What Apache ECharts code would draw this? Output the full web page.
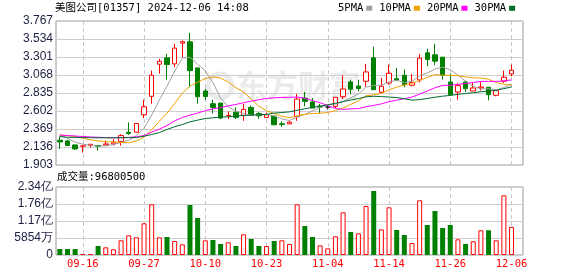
<!DOCTYPE html>
<html><head><meta charset="utf-8">
<script src="https://cdn.jsdelivr.net/npm/echarts@6/dist/echarts.min.js"></script>
<style>html,body{margin:0;padding:0;background:#fff}#c{width:578px;height:276px}</style>
</head><body><div id="c"></div><script>
const dates = ['09-11','09-12','09-13','09-16','09-17','09-19','09-20','09-23','09-24','09-25','09-26','09-27','09-30',
 '10-02','10-03','10-04','10-07','10-08','10-09','10-10','10-14','10-15','10-16','10-17','10-18','10-21','10-22','10-23',
 '10-24','10-25','10-28','10-29','10-30','10-31','11-01','11-04','11-05','11-06','11-07','11-08','11-11','11-12','11-13',
 '11-14','11-15','11-18','11-19','11-20','11-21','11-22','11-25','11-26','11-27','11-28','11-29','12-02','12-03','12-04',
 '12-05','12-06'];
const tickLabels = ['09-16','09-27','10-10','10-23','11-04','11-14','11-26','12-06'];
const opens  = [2.224,2.215,2.163,2.147,2.155,2.155,2.163,2.176,2.206,2.327,2.327,2.553,2.792,3.208,3.290,3.212,3.481,3.498,3.160,2.861,
 2.696,2.705,2.540,2.584,2.545,2.648,2.570,2.519,2.536,2.436,2.436,2.527,2.770,2.718,2.666,2.653,2.662,2.787,2.978,2.926,
 2.987,3.290,2.844,2.965,3.021,3.065,2.935,3.004,3.355,3.329,3.299,2.978,2.848,2.978,2.861,2.900,2.909,2.805,2.987,3.082];
const closes = [2.202,2.155,2.111,2.150,2.171,2.146,2.176,2.198,2.284,2.310,2.440,2.657,3.065,3.246,3.203,3.416,3.498,3.125,2.787,2.790,
 2.648,2.510,2.545,2.519,2.623,2.549,2.540,2.553,2.423,2.428,2.458,2.757,2.727,2.640,2.653,2.653,2.779,2.887,2.885,2.893,
 3.108,2.878,2.922,3.091,3.004,2.943,2.974,3.286,3.268,3.247,3.065,2.813,2.930,2.891,2.900,2.913,2.813,2.865,3.039,3.130];
const lows   = [2.111,2.150,2.098,2.063,2.128,2.089,2.155,2.155,2.155,2.293,2.323,2.510,2.696,3.086,3.008,3.169,3.299,2.909,2.696,2.748,
 2.571,2.501,2.497,2.497,2.475,2.549,2.501,2.519,2.423,2.397,2.432,2.475,2.662,2.640,2.575,2.622,2.640,2.757,2.822,2.857,
 2.917,2.878,2.835,2.943,2.987,2.909,2.922,2.974,3.182,3.195,3.008,2.805,2.748,2.848,2.861,2.865,2.740,2.792,2.965,3.052];
const highs  = [2.271,2.228,2.165,2.150,2.171,2.163,2.219,2.237,2.302,2.453,2.445,2.748,3.125,3.277,3.342,3.472,3.515,3.615,3.160,2.891,
 2.748,2.705,2.596,2.648,2.692,2.674,2.588,2.579,2.536,2.467,2.475,2.822,2.848,2.770,2.692,2.670,2.779,3.065,3.008,3.008,
 3.212,3.433,3.030,3.203,3.160,3.138,3.082,3.342,3.407,3.472,3.299,3.082,2.965,2.995,2.974,2.987,2.909,2.865,3.125,3.203];
const volumes = [20700000,20700000,20700000,3400000,3400000,31000000,26400000,19500000,50500000,67700000,60800000,109100000,
 174500000,60800000,62000000,48200000,36700000,172200000,127400000,50500000,51700000,37900000,43600000,31000000,71200000,
 55100000,31000000,31000000,48200000,50500000,37900000,174500000,99900000,62000000,33300000,23000000,64300000,146900000,
 79200000,74600000,168800000,220400000,88400000,164200000,86100000,68900000,41300000,188300000,103300000,151500000,92900000,
 103300000,54000000,37900000,47100000,85000000,85000000,50500000,205500000,96800500];
const ma5  = [2.284,2.250,2.198,2.172,2.158,2.147,2.151,2.168,2.195,2.223,2.282,2.378,2.551,2.744,2.922,3.117,3.286,3.298,3.206,3.124,
 2.969,2.771,2.655,2.602,2.569,2.549,2.555,2.557,2.538,2.499,2.480,2.524,2.559,2.602,2.647,2.686,2.691,2.723,2.773,2.821,
 2.911,2.931,2.938,2.978,3.001,2.968,2.987,3.060,3.095,3.144,3.168,3.136,3.065,2.989,2.920,2.889,2.889,2.876,2.906,2.952];
const ma10 = [2.293,2.284,2.271,2.250,2.228,2.215,2.206,2.198,2.196,2.190,2.214,2.264,2.360,2.469,2.573,2.700,2.832,2.924,2.975,3.022,
 3.043,3.029,2.977,2.904,2.846,2.759,2.663,2.606,2.570,2.534,2.515,2.540,2.558,2.570,2.573,2.583,2.607,2.641,2.688,2.734,
 2.799,2.811,2.830,2.876,2.911,2.939,2.959,2.999,3.037,3.072,3.068,3.061,3.062,3.042,3.032,3.029,3.013,2.971,2.948,2.936];
const ma20 = [2.290,2.285,2.278,2.272,2.266,2.262,2.258,2.256,2.257,2.260,2.268,2.284,2.328,2.367,2.414,2.475,2.518,2.549,2.575,2.606,
 2.629,2.646,2.668,2.687,2.709,2.729,2.748,2.765,2.772,2.778,2.779,2.784,2.767,2.737,2.709,2.671,2.635,2.623,2.629,2.634,
 2.657,2.675,2.694,2.723,2.742,2.761,2.783,2.820,2.862,2.903,2.933,2.936,2.946,2.959,2.971,2.984,2.986,2.985,2.992,3.004];
const ma30 = [2.271,2.262,2.260,2.258,2.256,2.255,2.255,2.255,2.256,2.257,2.258,2.276,2.297,2.323,2.363,2.398,2.427,2.462,2.484,2.505,
 2.514,2.523,2.527,2.536,2.544,2.549,2.553,2.558,2.575,2.582,2.591,2.611,2.631,2.648,2.664,2.681,2.701,2.724,2.744,2.763,
 2.786,2.793,2.788,2.783,2.776,2.761,2.743,2.749,2.765,2.780,2.794,2.804,2.817,2.829,2.838,2.851,2.860,2.870,2.891,2.914];
const priceMin = 1.903, priceMax = 3.767, priceStep = 0.233;
const volMax = 234160000, volStep = 58540000;
const stockTitle = '美图公司[01357] 2024-12-06 14:08';

const MONO = '"DejaVu Sans Mono","Noto Sans CJK SC",monospace';
const SANS = '"Liberation Sans",Arial,sans-serif';
const RED = '#ff0000', GREEN = '#008000';
const labelColor = '#1c2040';
const showTick = (i, v) => tickLabels.indexOf(v) >= 0 || tickLabels.indexOf(dates[i]) >= 0;

const chart = echarts.init(document.getElementById('c'), null, {renderer:'canvas'});
const candle = dates.map((d, i) => [opens[i], closes[i], lows[i], highs[i]]);
const volData = volumes.map((v, i) => {
  const up = i === 0 ? closes[i] >= opens[i] : closes[i] >= closes[i-1];
  return {value: v, itemStyle: up ? {color:'#fff', borderColor:RED, borderWidth:1} : {color:GREEN, borderWidth:0}};
});
const maLine = (name, data, color) => ({
  name, type:'line', data, xAxisIndex:0, yAxisIndex:0, symbol:'none', silent:true, z:4,
  lineStyle:{color, width:1}, itemStyle:{color}
});
const xBase = (gi, labels) => ({
  type:'category', gridIndex:gi, data:dates, boundaryGap:true, max:60,
  axisLine:{show:false}, axisTick:{show:false},
  axisLabel: labels ? {show:true, interval:showTick, color:RED, fontFamily:MONO, fontSize:10.5, margin:4} : {show:false},
  splitLine:{show:true, interval:showTick, alignWithLabel:true, lineStyle:{color:'#c8c8c8', type:[4,3], width:1}}
});
const volFmt = v => v === 0 ? '0' : (v >= 1e8 ? (v/1e8).toFixed(2) + '亿' : Math.round(v/1e4) + '万');

chart.setOption({
  animation:false,
  backgroundColor:'#fff',
  title:[
    {text:stockTitle, left:55, top:3, padding:0, textStyle:{fontSize:10.5, fontWeight:'normal', fontFamily:MONO, color:'#000'}},
    {text:'成交量:' + volumes[volumes.length-1], left:57, top:172, padding:0, textStyle:{fontSize:10.5, fontWeight:'normal', fontFamily:MONO, color:'#000'}}
  ],
  legend:{data:['5PMA','10PMA','20PMA','30PMA'], left:338, top:3, padding:0, align:'right', icon:'rect',
    itemWidth:6, itemHeight:5, itemGap:7, selectedMode:false,
    textStyle:{fontFamily:MONO, fontSize:10.5, color:'#000', padding:[0,-2,0,0]}},
  graphic:[
    {type:'circle', shape:{cx:220, cy:86, r:12}, style:{fill:'none', stroke:'#ebebeb', lineWidth:5}, z:0, silent:true},
    {type:'text', left:236, top:70, style:{text:'东方财富', fontSize:31, fontWeight:'bold', fill:'#ebebeb', fontFamily:'"Noto Sans CJK SC"'}, z:0, silent:true}
  ],
  grid:[
    {left:56, right:55, top:21, height:144, show:true, borderColor:'#999', borderWidth:1, backgroundColor:'transparent'},
    {left:56, right:55, top:187, height:68, show:true, borderColor:'#999', borderWidth:1, backgroundColor:'transparent'}
  ],
  xAxis:[xBase(0,false), xBase(1,true)],
  yAxis:[
    {type:'value', gridIndex:0, min:priceMin, max:priceMax, interval:priceStep, axisLine:{show:false}, axisTick:{show:false},
     splitLine:{lineStyle:{color:'#cfcfcf'}},
     axisLabel:{formatter:v => v.toFixed(3), fontFamily:SANS, fontSize:12, color:labelColor, margin:3}},
    {type:'value', gridIndex:1, min:0, max:volMax, interval:volStep, axisLine:{show:false}, axisTick:{show:false},
     splitLine:{lineStyle:{color:'#cfcfcf'}},
     axisLabel:{formatter:volFmt, fontFamily:SANS, fontSize:12, color:labelColor, margin:3}}
  ],
  series:[
    {type:'candlestick', xAxisIndex:0, yAxisIndex:0, data:candle, barWidth:5, z:3, silent:true,
     itemStyle:{color:'#fff', color0:GREEN, borderColor:RED, borderColor0:GREEN, borderColorDoji:'#222', borderWidth:1}},
    maLine('5PMA', ma5, '#a0a0a0'),
    maLine('10PMA', ma10, '#f0a000'),
    maLine('20PMA', ma20, '#ff00ff'),
    maLine('30PMA', ma30, '#006a30'),
    {type:'bar', xAxisIndex:1, yAxisIndex:1, data:volData, barWidth:5, silent:true, z:3}
  ]
});
</script></body></html>
